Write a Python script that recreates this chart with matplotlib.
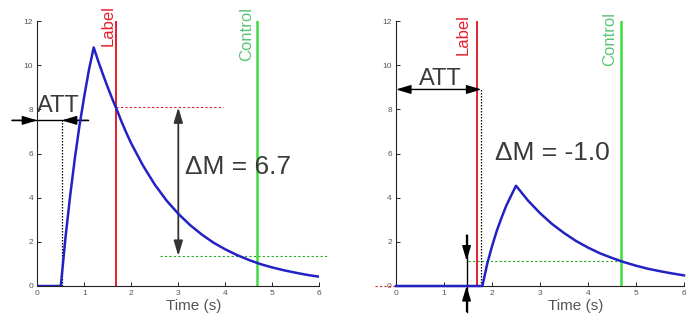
import numpy as np
import matplotlib
matplotlib.use('Agg')
import matplotlib.pyplot as plt

plt.rcParams['font.family'] = ['Liberation Sans', 'DejaVu Sans']

# signal curves (time in s, signal)
t_left = [0.0, 0.5, 0.6, 0.7, 0.8, 0.9, 1.0, 1.1, 1.2, 1.3, 1.4, 1.5, 1.6, 1.7, 1.8,
          1.9, 2.0, 2.25, 2.5, 2.75, 3.0, 3.25, 3.5, 3.75, 4.0, 4.25, 4.5, 4.75, 5.0,
          5.25, 5.5, 5.75, 6.0]
m_left = [0.0, 0.0, 2.2, 4.1, 5.8, 7.3, 8.6, 9.8, 10.8, 10.16, 9.56, 8.99, 8.45, 7.94,
          7.40, 6.91, 6.45, 5.45, 4.59, 3.87, 3.27, 2.76, 2.33, 1.96, 1.66, 1.40, 1.18,
          0.99, 0.84, 0.71, 0.60, 0.50, 0.42]

t_right = [0.0, 1.8, 1.9, 2.0, 2.1, 2.2, 2.3, 2.4, 2.5, 2.75, 3.0, 3.25, 3.5, 3.75,
           4.0, 4.25, 4.5, 4.75, 5.0, 5.25, 5.5, 5.75, 6.0]
m_right = [0.0, 0.0, 1.0, 1.8, 2.5, 3.1, 3.65, 4.1, 4.54, 3.87, 3.3, 2.81, 2.4, 2.04,
           1.74, 1.48, 1.27, 1.08, 0.92, 0.78, 0.67, 0.57, 0.48]

label_time = 1.68
control_time = 4.68

# left: ATT and signal levels at label / control
att_left = 0.52
label_level_left = 8.09
control_level_left = 1.36
dm_left = 'ΔM = 6.7'

# right
att_right = 1.78
label_level_right = 0.0
control_level_right = 1.15
dm_right = 'ΔM = -1.0'

xticks = [0, 1, 2, 3, 4, 5, 6]
yticks = [0, 2, 4, 6, 8, 10, 12]

RED = '#e3202c'
GREEN = '#3fdc3f'
GREEN_TXT = '#5cc47a'
BLUE = '#2222c4'
DARK = '#3a3a3a'

head = '-|>,head_length=0.6,head_width=0.18'
head2 = '<|-|>,head_length=0.6,head_width=0.18'


def arrow(ax, xy, xytext, style=head, color='k', lw=1.0):
    ax.annotate('', xy=xy, xytext=xytext, annotation_clip=False,
                arrowprops=dict(arrowstyle=style, color=color, lw=lw,
                                mutation_scale=15, shrinkA=0, shrinkB=0))


def base_axes(ax, xlab_x):
    ax.set_xlim(0, 6)
    ax.set_ylim(0, 12)
    ax.set_xticks(xticks)
    ax.set_yticks(yticks)
    for s in ['top', 'right']:
        ax.spines[s].set_visible(False)
    for s in ['left', 'bottom']:
        ax.spines[s].set_linewidth(0.8)
        ax.spines[s].set_color('#222222')
    ax.tick_params(direction='in', length=3, width=0.6, labelsize=6,
                   labelcolor='#555555', pad=3)
    ax.set_xlabel('Time (s)', fontsize=11, color='#555555')
    ax.xaxis.set_label_coords(xlab_x, -0.05)


fig = plt.figure(figsize=(6.94, 3.2), dpi=100)
ax1 = fig.add_axes([37.3 / 694, 34 / 320, 282 / 694, 265 / 320])
ax2 = fig.add_axes([396 / 694, 34 / 320, 288 / 694, 265 / 320])

# ---------------- left panel ----------------
ax = ax1
base_axes(ax, 0.554)
ax.plot([label_time, 3.95], [label_level_left] * 2, ls=(0, (2, 2)), color=RED, lw=0.8)
ax.plot([2.6, 6.2], [control_level_left] * 2, ls=(0, (2, 2)), color='#22aa22', lw=0.8,
        clip_on=False)
ax.axvline(label_time, color=RED, lw=1.4)
ax.axvline(control_time, color=GREEN, lw=1.8)
ax.plot(t_left, m_left, color=BLUE, lw=1.8, zorder=4)
ax.plot([att_left, att_left], [0, 7.5], ls=(0, (1.2, 1.2)), color='k', lw=0.9)
ax.plot([-0.54, 1.08], [7.5, 7.5], color='k', lw=1.0, clip_on=False)
arrow(ax, (0, 7.5), (-0.54, 7.5))
arrow(ax, (att_left, 7.5), (1.08, 7.5))
arrow(ax, (3.0, control_level_left), (3.0, label_level_left), style=head2, color='#333333', lw=1.3)
ax.text(0.455, 7.9, 'ATT', fontsize=17, color=DARK, ha='center', va='baseline')
ax.text(3.14, 5.4, dm_left, fontsize=19, color=DARK, ha='left', va='center')
ax.text(1.50, 11.8, 'Label', rotation=90, fontsize=12, color=RED, ha='center', va='center',
        clip_on=False)
ax.text(4.46, 11.4, 'Control', rotation=90, fontsize=12, color=GREEN_TXT, ha='center',
        va='center', clip_on=False)

# ---------------- right panel ----------------
ax = ax2
base_axes(ax, 0.623)
ax.plot([-0.44, att_right], [label_level_right] * 2, ls=(0, (2, 2)), color=RED, lw=0.8,
        clip_on=False)
ax.plot([1.5, control_time], [control_level_right] * 2, ls=(0, (2, 2)), color='#22aa22', lw=0.8)
ax.axvline(label_time, color=RED, lw=1.4)
ax.axvline(control_time, color=GREEN, lw=1.8)
ax.plot(t_right, m_right, color=BLUE, lw=1.8, zorder=4, clip_on=False)
ax.plot([att_right, att_right], [0, 8.9], ls=(0, (1.2, 1.2)), color='k', lw=0.9)
arrow(ax, (0, 8.9), (att_right, 8.9), style=head2)
ax.plot([1.47, 1.47], [-1.16, 2.31], color='k', lw=1.0, clip_on=False)
arrow(ax, (1.47, control_level_right), (1.47, 2.31))
arrow(ax, (1.47, 0), (1.47, -1.16))
ax.text(0.92, 9.1, 'ATT', fontsize=17, color=DARK, ha='center', va='baseline')
ax.text(2.06, 6.0, dm_right, fontsize=19, color=DARK, ha='left', va='center')
ax.text(1.40, 11.4, 'Label', rotation=90, fontsize=12, color=RED, ha='center', va='center',
        clip_on=False)
ax.text(4.46, 11.2, 'Control', rotation=90, fontsize=12, color=GREEN_TXT, ha='center',
        va='center', clip_on=False)

fig.savefig('out.png', dpi=100)
